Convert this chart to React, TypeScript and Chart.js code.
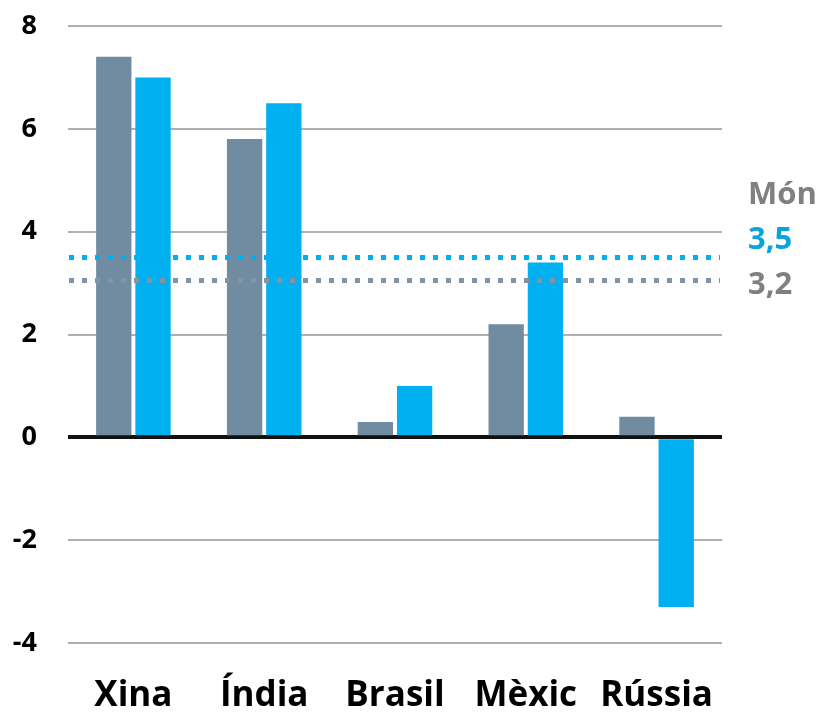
import React, { useEffect, useRef } from "react";
import { Chart, registerables } from "chart.js";

Chart.register(...registerables);

const categories = ["Xina", "Índia", "Brasil", "Mèxic", "Rússia"];
const grayValues = [7.4, 5.8, 0.3, 2.2, 0.4];
const blueValues = [7.0, 6.5, 1.0, 3.4, -3.3];
const worldTitle = "Món";
const blueAvgLabel = "3,5";
const grayAvgLabel = "3,2";
const blueAvgValue = 3.5;
const grayAvgValue = 3.05;

const GRAY = "#718ba1";
const BLUE = "#00b0f0";
const FONT = "'Open Sans', Lato, sans-serif";

const refPlugin = {
  id: "refLines",
  afterDatasetsDraw(chart: any) {
    const { ctx, chartArea, scales } = chart;
    const y = scales.y;
    const drawDots = (val: number, color: string) => {
      const py = y.getPixelForValue(val);
      ctx.save();
      ctx.strokeStyle = color;
      ctx.lineWidth = 5;
      ctx.lineCap = "butt";
      ctx.setLineDash([5, 8]);
      ctx.beginPath();
      ctx.moveTo(chartArea.left + 1, py);
      ctx.lineTo(chartArea.right - 2, py);
      ctx.stroke();
      ctx.restore();
    };
    drawDots(blueAvgValue, BLUE);
    drawDots(grayAvgValue, "#8094a6");

    const gy = y.getPixelForValue(grayAvgValue) + 5;
    const tx = chartArea.right + 26;
    ctx.save();
    ctx.font = `bold 31px ${FONT}`;
    ctx.textAlign = "left";
    ctx.textBaseline = "middle";
    ctx.fillStyle = "#808080";
    ctx.fillText(grayAvgLabel, tx, gy);
    ctx.fillStyle = "#0aa3e0";
    ctx.fillText(blueAvgLabel, tx, gy - 45);
    ctx.fillStyle = "#808080";
    ctx.fillText(worldTitle, tx, gy - 90);
    ctx.restore();
  },
};

export default function App() {
  const ref = useRef<HTMLCanvasElement>(null);
  useEffect(() => {
    document.body.style.margin = "0";
    const chart = new Chart(ref.current!, {
      type: "bar",
      data: {
        labels: categories,
        datasets: [
          { data: grayValues, backgroundColor: GRAY, categoryPercentage: 0.6, barPercentage: 0.9 },
          { data: blueValues, backgroundColor: BLUE, categoryPercentage: 0.6, barPercentage: 0.9 },
        ],
      },
      options: {
        animation: false,
        responsive: false,
        maintainAspectRatio: false,
        layout: { padding: { top: 26, right: 101, left: 0, bottom: 0 } },
        plugins: { legend: { display: false }, tooltip: { enabled: false } },
        scales: {
          x: {
            grid: { display: false, drawTicks: false },
            border: { display: false },
            ticks: { color: "#000", font: { family: FONT, size: 35, weight: "bold" }, padding: 32 },
            afterFit: (s: any) => { s.height = 71; },
          },
          y: {
            min: -4,
            max: 8,
            ticks: { stepSize: 2, color: "#000", font: { family: FONT, size: 27, weight: "bold" }, padding: 31 },
            grid: {
              drawTicks: false,
              color: (c: any) => (c.tick && c.tick.value === 0 ? "#111" : "#b0b0b0"),
              lineWidth: (c: any) => (c.tick && c.tick.value === 0 ? 4 : 2),
            },
            border: { display: false },
            afterFit: (s: any) => { s.width = 68; s.paddingTop = 10; s.paddingBottom = 10; },
          },
        },
      },
      plugins: [refPlugin],
    });
    return () => chart.destroy();
  }, []);
  return (
    <div style={{ width: 823, height: 714 }}>
      <canvas ref={ref} width={823} height={714} style={{ display: "block" }} />
    </div>
  );
}
